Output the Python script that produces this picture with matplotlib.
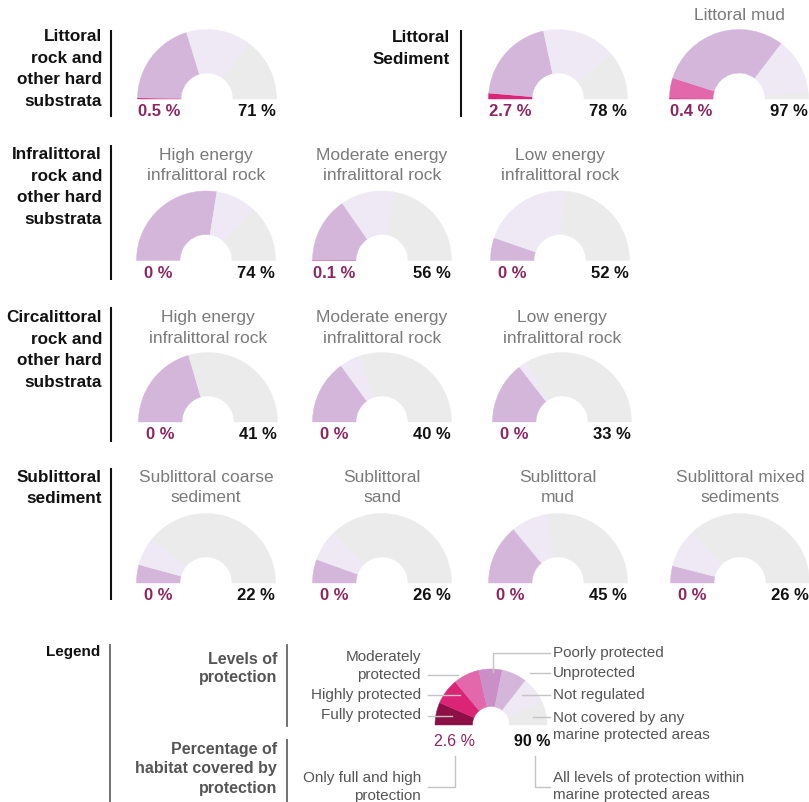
import matplotlib.pyplot as plt
from matplotlib.patches import Wedge
from matplotlib import font_manager

W, H = 809, 802

names = set(font_manager.get_font_names())
main_font = "Liberation Sans" if "Liberation Sans" in names else "DejaVu Sans"
narrow_font = "Liberation Sans Narrow" if "Liberation Sans Narrow" in names else main_font
plt.rcParams["font.family"] = [main_font, "DejaVu Sans"]

levels = ["Fully protected", "Highly protected", "Moderately\nprotected", "Poorly protected",
          "Unprotected", "Not regulated", "Not covered by any\nmarine protected areas"]
level_colors = ["#8c1046", "#dc2477", "#e267ab", "#c98fc6", "#d4b6da", "#eee9f4", "#ebebeb"]

# share of each habitat per protection level (%), same order as levels
littoral_rock = [0, 0.5, 0, 0, 40, 30.5, 29]
littoral_sediment = [0, 2.7, 0, 0, 40.6, 34.7, 22]
littoral_mud = [0, 0.4, 9.4, 0, 61, 26.2, 3]
infra_high = [0, 0, 0, 0, 55, 19, 26]
infra_moderate = [0, 0.1, 0, 0, 30.6, 25.3, 44]
infra_low = [0, 0, 0, 0, 10.6, 41.4, 48]
circa_high = [0, 0, 0, 0, 41, 0, 59]
circa_moderate = [0, 0, 0, 0, 30, 10, 60]
circa_low = [0, 0, 0, 0, 29, 4, 67]
sub_coarse = [0, 0, 0, 0, 8.5, 13.5, 78]
sub_sand = [0, 0, 0, 0, 11, 15, 74]
sub_mud = [0, 0, 0, 0, 28, 17, 55]
sub_mixed = [0, 0, 0, 0, 8, 18, 74]
legend_example = [13, 15, 15, 13.5, 14.5, 15.5, 13.5]

habitat_values = [littoral_rock, littoral_sediment, littoral_mud,
                  infra_high, infra_moderate, infra_low,
                  circa_high, circa_moderate, circa_low,
                  sub_coarse, sub_sand, sub_mud, sub_mixed]
habitat_titles = ["", "", "Littoral mud",
                  "High energy\ninfralittoral rock", "Moderate energy\ninfralittoral rock", "Low energy\ninfralittoral rock",
                  "High energy\ninfralittoral rock", "Moderate energy\ninfralittoral rock", "Low energy\ninfralittoral rock",
                  "Sublittoral coarse\nsediment", "Sublittoral\nsand", "Sublittoral\nmud", "Sublittoral mixed\nsediments"]
full_high_pct = [0.5, 2.7, 0.4, 0, 0.1, 0, 0, 0, 0, 0, 0, 0, 0]
all_levels_pct = [71, 78, 97, 74, 56, 52, 41, 40, 33, 22, 26, 45, 26]

groups = ["Littoral\nrock and\nother hard\nsubstrata", "Littoral\nSediment",
          "Infralittoral\nrock and\nother hard\nsubstrata",
          "Circalittoral\nrock and\nother hard\nsubstrata",
          "Sublittoral\nsediment"]

# layout (pixels)
centers_x = [207, 558, 739, 206, 382, 560, 208, 382, 562, 206, 382, 558, 740]
bases_y = [99, 99, 99, 260.5, 260.5, 260.5, 422, 422, 422, 583, 583, 583, 583]
title_y = [0, 0, 15, 165.5, 165.5, 165.5, 328, 328, 328, 487.5, 487.5, 487.5, 487.5]
group_x = [102, 450, 102, 102, 102]
group_y = [69, 48.5, 187, 350, 488]
group_line = [(111, 30, 117), (461, 30, 117), (111, 145, 280), (111, 307, 442), (111, 468, 600)]

R, R_IN = 69.5, 26
PCT_COLOR = "#8e2460"

fig = plt.figure(figsize=(W / 100, H / 100), dpi=100)
ax = fig.add_axes([0, 0, 1, 1])
ax.set_xlim(0, W)
ax.set_ylim(H, 0)
ax.axis("off")


def half_donut(cx, cy, vals, r, r_in):
    # y axis is flipped, so screen angle a is data angle -a
    start = 180.0
    for v, c in zip(vals, level_colors):
        if v <= 0:
            continue
        end = start - v * 1.8
        ax.add_patch(Wedge((cx, cy), r, -start, -end, width=r - r_in,
                           facecolor=c, edgecolor=c, linewidth=0.3))
        start = end


def fmt(v):
    return f"{v:g} %"


for i, vals in enumerate(habitat_values):
    cx, cy = centers_x[i], bases_y[i]
    half_donut(cx, cy, vals, R, R_IN)
    ax.text(cx - 48, cy + 12.5, fmt(full_high_pct[i]), ha="center", va="center",
            fontsize=12, fontweight="bold", color=PCT_COLOR)
    ax.text(cx + 50, cy + 12.5, fmt(all_levels_pct[i]), ha="center", va="center",
            fontsize=12, fontweight="bold", color="#111111")
    if habitat_titles[i]:
        ax.text(cx, title_y[i], habitat_titles[i], ha="center", va="center",
                fontsize=12.5, color="#7a7a7a", linespacing=1.45)

for g, x, y, (lx, y0, y1) in zip(groups, group_x, group_y, group_line):
    ax.text(x, y, g, ha="right", va="center", ma="right", fontsize=12.3,
            fontweight="bold", color="#111111", linespacing=1.55)
    ax.plot([lx, lx], [y0, y1], color="#111111", lw=1.5, solid_capstyle="butt")

# legend block
LG = "#555555"
LEAD = "#c4c4c4"
lfam = [narrow_font, main_font]
ax.text(100, 652, "Legend", ha="right", va="center", fontsize=11, fontweight="bold",
        color="#111111", family=lfam)
ax.plot([110, 110], [645, 802], color="#666666", lw=1.3)
ax.text(277, 668.5, "Levels of\nprotection", ha="right", va="center", ma="right",
        fontsize=11.5, fontweight="bold", color=LG, linespacing=1.2, family=lfam)
ax.plot([287, 287], [645, 726], color="#666666", lw=1.3)
ax.text(277, 769, "Percentage of\nhabitat covered by\nprotection", ha="right", va="center",
        ma="right", fontsize=11.5, fontweight="bold", color=LG, linespacing=1.4,
        family=lfam)
ax.plot([287, 287], [740, 802], color="#666666", lw=1.3)

lcx, lcy = 491, 725
half_donut(lcx, lcy, legend_example, 56, 18.5)

lfs = 12.5 if narrow_font != main_font else 11
# left side labels
left_labels = [(levels[2], 666, 675, 458), (levels[1], 695, 695, 460), (levels[0], 715.5, 715.5, 452)]
for txt, ty, ly, x_end in left_labels:
    ax.text(421, ty, txt, ha="right", va="center", ma="right", fontsize=lfs,
            color=LG, family=lfam, linespacing=1.3)
    ax.plot([428, x_end], [ly, ly], color=LEAD, lw=1, zorder=3)
# right side labels
ax.text(553, 653, levels[3], ha="left", va="center", fontsize=lfs, color=LG, family=lfam)
ax.plot([550, 493, 493], [653, 653, 672], color=LEAD, lw=1, zorder=3)
right_labels = [(levels[4], 673, 673, 530), (levels[5], 695, 695, 522), (levels[6], 726.5, 716.5, 533)]
for txt, ty, ly, x_end in right_labels:
    ax.text(553, ty, txt, ha="left", va="center", ma="left", fontsize=lfs,
            color=LG, family=lfam, linespacing=1.35)
    ax.plot([550, x_end], [ly, ly], color=LEAD, lw=1, zorder=3)

ax.text(455, 741, "2.6 %", ha="center", va="center", fontsize=11.5,
        color=PCT_COLOR, family=lfam)
ax.text(532.5, 741, "90 %", ha="center", va="center", fontsize=11.5,
        fontweight="bold", color="#111111", family=lfam)
ax.plot([455, 455, 428], [756, 787, 787], color=LEAD, lw=1)
ax.plot([535, 535, 550], [756, 787, 787], color=LEAD, lw=1)
ax.text(421, 771, "Only full and high\nprotection", ha="right", va="top", ma="right",
        fontsize=lfs, color=LG, family=lfam, linespacing=1.35)
ax.text(553, 771, "All levels of protection within\nmarine protected areas", ha="left",
        va="top", ma="left", fontsize=lfs, color=LG, family=lfam, linespacing=1.3)

fig.savefig("out.png", dpi=100, facecolor="white")
